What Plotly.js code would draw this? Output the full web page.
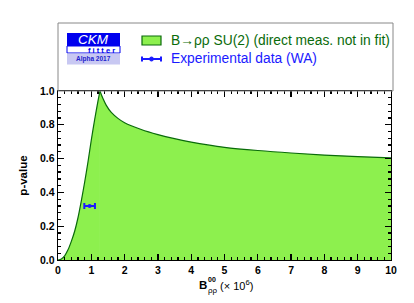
<!DOCTYPE html>
<html>
<head>
<meta charset="utf-8">
<script src="https://cdn.plot.ly/plotly-3.0.1.min.js"></script>
<style>body{margin:0;background:#fff}#chart{width:414px;height:303px}</style>
</head>
<body>
<div id="chart"></div>
<script>
// SU(2) p-value scan of B(B0 -> rho0 rho0) (x 10^6): rising branch and falling branch
const brRise = [0, 0.1, 0.2, 0.3, 0.4, 0.5, 0.6, 0.7, 0.8, 0.9, 1.0, 1.1, 1.2, 1.26];
const pRise  = [0, 0.006, 0.025, 0.06, 0.11, 0.17, 0.25, 0.35, 0.46, 0.58, 0.71, 0.83, 0.94, 1.0];
const brFall = [1.26, 1.35, 1.45, 1.6, 1.8, 2.0, 2.5, 3.0, 3.5, 4.0, 4.5, 5.0, 6.0, 7.0, 8.0, 9.0, 10.0];
const pFall  = [1.0, 0.955, 0.915, 0.873, 0.838, 0.812, 0.772, 0.742, 0.718, 0.698, 0.681, 0.667, 0.648, 0.633, 0.621, 0.612, 0.604];
// Experimental world average
const expValue = [0.95];
const expError = [0.16];
const expPlotY = [0.32];
const xTickVals = [0,1,2,3,4,5,6,7,8,9,10];
const yTickVals = [0,0.2,0.4,0.6,0.8,1.0];

const font = 'Liberation Sans, Arial, sans-serif';
const fillCol = '#8df04e', lineCol = '#0a6b0a', blue = '#1a1aff';
const traces = [
  {x: brRise, y: pRise, type: 'scatter', mode: 'lines', fill: 'tozeroy',
   fillcolor: fillCol, line: {color: lineCol, width: 1.2, shape: 'spline', smoothing: 0.6}, hoverinfo: 'skip'},
  {x: brFall, y: pFall, type: 'scatter', mode: 'lines', fill: 'tozeroy',
   fillcolor: fillCol, line: {color: lineCol, width: 1.2, shape: 'spline', smoothing: 1}, hoverinfo: 'skip'},
  {x: expValue, y: expPlotY, type: 'scatter', mode: 'markers',
   marker: {color: blue, size: 4},
   error_x: {type: 'data', array: expError, color: blue, thickness: 2, width: 3}}
];

const W = 414, H = 303, L = 58, R = 23, T = 91, B = 43;
const pw = W - L - R, ph = H - T - B;
const px = v => (v - L) / pw;
const py = v => (H - B - v) / ph;

const layout = {
  width: W, height: H, showlegend: false,
  margin: {l: L, r: R, t: T, b: B},
  paper_bgcolor: '#fff', plot_bgcolor: '#fff',
  font: {family: font, color: '#000'},
  xaxis: {range: [0, 10], tickvals: xTickVals, ticktext: xTickVals.map(String),
    ticks: 'inside', ticklen: 6, tickwidth: 1.3, tickcolor: '#000',
    minor: {dtick: 0.2, ticks: 'inside', ticklen: 3, tickwidth: 1.3, tickcolor: '#000'},
    showline: true, linecolor: '#000', linewidth: 1.3, mirror: 'ticks',
    showgrid: false, zeroline: false,
    tickfont: {size: 10.5, family: font, weight: 'bold'}},
  yaxis: {range: [0, 1], tickvals: yTickVals, ticktext: yTickVals.map(v => v.toFixed(1)),
    ticks: 'inside', ticklen: 6, tickwidth: 1.3, tickcolor: '#000',
    minor: {dtick: 0.04, ticks: 'inside', ticklen: 3, tickwidth: 1.3, tickcolor: '#000'},
    showline: true, linecolor: '#000', linewidth: 1.3, mirror: 'ticks',
    showgrid: false, zeroline: false,
    tickfont: {size: 10.5, family: font, weight: 'bold'},
    title: {text: '<b>p-value</b>', font: {size: 11.5, family: font}, standoff: 10}},
  shapes: [
    {type: 'rect', xref: 'paper', yref: 'paper', x0: px(58), x1: px(393), y0: py(91), y1: py(23),
     line: {color: '#888', width: 1}, fillcolor: 'rgba(0,0,0,0)'},
    {type: 'rect', xref: 'paper', yref: 'paper', x0: px(67), x1: px(120), y0: py(46), y1: py(33),
     line: {width: 0}, fillcolor: '#0000ee'},
    {type: 'rect', xref: 'paper', yref: 'paper', x0: px(67), x1: px(120), y0: py(53), y1: py(46),
     line: {color: '#0000ee', width: 1}, fillcolor: '#fff'},
    {type: 'rect', xref: 'paper', yref: 'paper', x0: px(67), x1: px(120), y0: py(64.5), y1: py(53.5),
     line: {width: 0}, fillcolor: '#c8c8f2'},
    {type: 'rect', xref: 'paper', yref: 'paper', x0: px(142), x1: px(161), y0: py(45), y1: py(36),
     line: {color: lineCol, width: 1.2}, fillcolor: fillCol},
    {type: 'line', xref: 'paper', yref: 'paper', x0: px(142), x1: px(161), y0: py(59), y1: py(59),
     line: {color: blue, width: 2}},
    {type: 'line', xref: 'paper', yref: 'paper', x0: px(142), x1: px(142), y0: py(56.5), y1: py(61.5),
     line: {color: blue, width: 2}},
    {type: 'line', xref: 'paper', yref: 'paper', x0: px(161), x1: px(161), y0: py(56.5), y1: py(61.5),
     line: {color: blue, width: 2}},
    {type: 'circle', xref: 'paper', yref: 'paper', x0: px(149.5), x1: px(153.5), y0: py(61), y1: py(57),
     line: {color: blue, width: 1}, fillcolor: blue}
  ],
  annotations: [
    {xref: 'paper', yref: 'paper', x: px(93.5), y: py(39.5), text: '<i>CKM</i>', showarrow: false,
     xanchor: 'center', yanchor: 'middle', font: {size: 13.5, family: font, color: '#fff'}},
    {xref: 'paper', yref: 'paper', x: px(101), y: py(50.3), text: '<b>f i t t e r</b>', showarrow: false,
     xanchor: 'center', yanchor: 'middle', font: {size: 7.5, family: font, color: '#0000ee'}},
    {xref: 'paper', yref: 'paper', x: px(93.5), y: py(59), text: '<b>Alpha 2017</b>', showarrow: false,
     xanchor: 'center', yanchor: 'middle', font: {size: 6.5, family: font, color: '#2222cc'}},
    {xref: 'paper', yref: 'paper', x: px(169), y: py(40.5), text: 'B\u2192\u03c1\u03c1 SU(2) (direct meas. not in fit)', showarrow: false,
     xanchor: 'left', yanchor: 'middle', font: {size: 13.8, family: font, color: lineCol}},
    {xref: 'paper', yref: 'paper', x: px(169), y: py(59), text: 'Experimental data (WA)', showarrow: false,
     xanchor: 'left', yanchor: 'middle', font: {size: 13.8, family: font, color: blue}},
    {xref: 'paper', yref: 'paper', x: px(197), y: py(285), text: '<b>B</b>', showarrow: false,
     xanchor: 'left', yanchor: 'middle', font: {size: 11.5, family: font}},
    {xref: 'paper', yref: 'paper', x: px(205.5), y: py(279), text: '<b>00</b>', showarrow: false,
     xanchor: 'left', yanchor: 'middle', font: {size: 7, family: font}},
    {xref: 'paper', yref: 'paper', x: px(205.5), y: py(290), text: '\u03c1\u03c1', showarrow: false,
     xanchor: 'left', yanchor: 'middle', font: {size: 8, family: font}},
    {xref: 'paper', yref: 'paper', x: px(218), y: py(285), text: '(\u00d7 10<sup>6</sup>)', showarrow: false,
     xanchor: 'left', yanchor: 'middle', font: {size: 11, family: font}}
  ]
};

Plotly.newPlot('chart', traces, layout, {staticPlot: true, displayModeBar: false});
</script>
</body>
</html>
